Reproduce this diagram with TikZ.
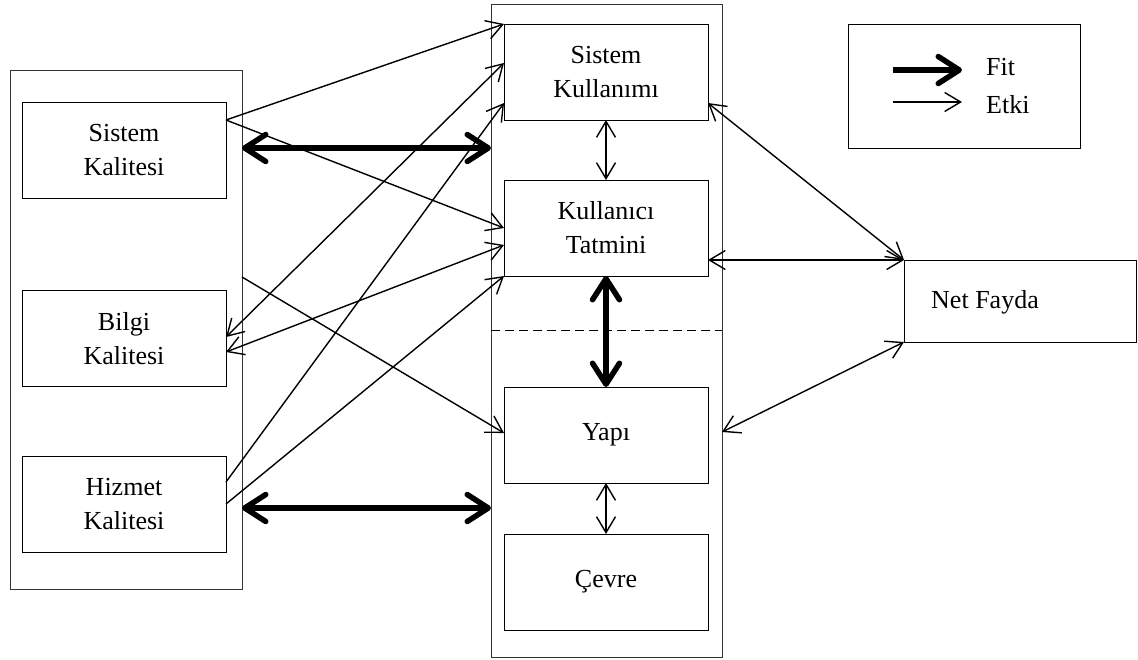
\documentclass[tikz,border=0pt]{standalone}
\usepackage{fontspec}
\setmainfont{Liberation Serif}
\usetikzlibrary{arrows.meta,calc}
\begin{document}
\begin{tikzpicture}[x=1pt,y=-1pt,
  box/.style={draw=black, line width=1pt, inner sep=0pt, outer sep=0pt,
    minimum width=204pt, minimum height=96pt, align=center,
    font=\fontsize{26}{34}\selectfont},
  outerbox/.style={draw=black!80, line width=1pt, inner sep=0pt, outer sep=0pt},
  thin/.style={line width=1.4pt, -{Straight Barb[length=16pt,width=19pt]}},
  thinboth/.style={line width=1.4pt, {Straight Barb[length=16pt,width=19pt]}-{Straight Barb[length=16pt,width=19pt]}},
  fitboth/.style={line width=5.5pt, {Straight Barb[round,length=21pt,width=27pt]}-{Straight Barb[round,length=21pt,width=27pt]}},
  fitone/.style={line width=5.5pt, -{Straight Barb[round,length=21pt,width=27pt]}},
  lbl/.style={inner sep=0pt, font=\fontsize{26}{34}\selectfont}
]
\useasboundingbox (0,0) rectangle (1138,659);
\fill[white] (0,0) rectangle (1138,659);

% outer containers
\node[outerbox, minimum width=232pt, minimum height=519pt] (leftbox) at (126,329.5) {};
\node[outerbox, minimum width=231pt, minimum height=653pt] (midbox) at (606.5,330.5) {};

% left column
\node[box] (skal) at (124,150) {Sistem\\Kalitesi};
\node[box] (bilgi) at (124,338.5) {Bilgi\\Kalitesi};
\node[box] (hiz) at (124,504) {Hizmet\\Kalitesi};

% middle column
\node[box] (skul) at (606,72) {Sistem\\Kullanımı};
\node[box] (tat) at (606,228) {Kullanıcı\\Tatmini};
\node[box] (yapi) at (606,435) {Yapı};
\node[box] (cevre) at (606,582) {Çevre};

\draw[line width=1.2pt, dash pattern=on 9pt off 5pt] (midbox.west) -- (midbox.east);

% right
\node[box, minimum width=232pt, minimum height=82pt] (nf) at (1020,301) {};
\node[lbl, anchor=base west] (nft) at (931,308) {Net Fayda};

% legend
\node[outerbox, draw=black, minimum width=232pt, minimum height=124pt] (legend) at (964,86) {};
\node[lbl, anchor=base west] (fit) at (986,75) {Fit};
\node[lbl, anchor=base west] (etki) at (986,113) {Etki};
\coordinate (fa) at (893,70);
\coordinate (fb) at (962,70);
\coordinate (ea) at (893,102);
\coordinate (eb) at (962,102);
\draw[fitone] (fa) -- (fb);
\draw[thin] (ea) -- (eb);

% thick fit arrows
\draw[fitboth] ([yshift=2pt]leftbox.east |- skal.east) -- ([yshift=2pt]midbox.west |- skal.west);
\draw[fitboth] ([yshift=-4pt]leftbox.east |- hiz.east) -- ([yshift=-4pt]midbox.west |- hiz.west);
\draw[fitboth] (tat.south) -- (yapi.north);

% thin vertical
\draw[thinboth] (skul.south) -- (tat.north);
\draw[thinboth] (yapi.south) -- (cevre.north);

% left to middle
\draw[thin] ([yshift=30pt]skal.east) -- (skul.north west);
\draw[thin] ([yshift=30pt]skal.east) -- (tat.west);
\draw[thinboth] ([yshift=1.5pt]bilgi.east) -- ([yshift=9pt]skul.west);
\draw[thinboth] ([yshift=-13.5pt]bilgi.east) -- ([yshift=-17pt]tat.west);
\draw[thin] ([yshift=22pt]hiz.east) -- ([yshift=-31pt]skul.west);
\draw[thin] (hiz.east) -- (tat.south west);
\draw[thin] ([yshift=52.5pt]leftbox.east) -- ([yshift=2pt]yapi.west);

% middle to net fayda
\draw[thinboth] ([yshift=-31pt]skul.east) -- (nf.north west);
\draw[thinboth] ([yshift=-32pt]tat.east) -- (nf.north west);
\draw[thinboth] ([yshift=3pt]midbox.east |- yapi.east) -- (nf.south west);
\end{tikzpicture}
\end{document}
